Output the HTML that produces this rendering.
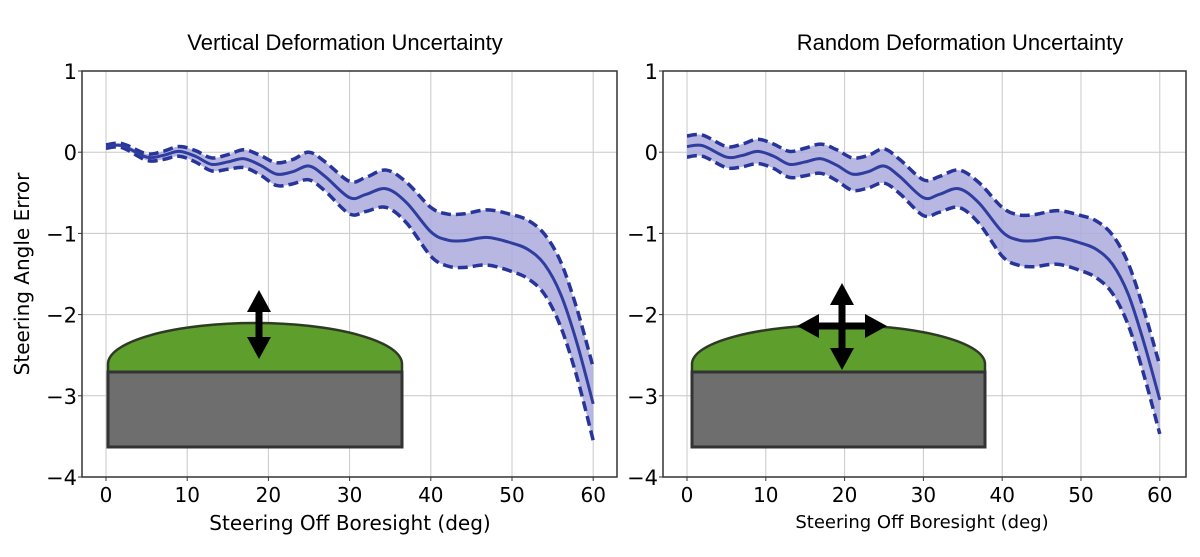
<!DOCTYPE html>
<html><head><meta charset="utf-8"><style>
body{margin:0;background:#fff;width:1200px;height:557px;overflow:hidden}
svg{display:block;font-family:"DejaVu Sans","Liberation Sans",sans-serif}
</style></head><body>
<svg id="chart" width="1200" height="557" viewBox="0 0 1200 557">
<text x="345" y="50" font-size="22" text-anchor="middle" font-family="Liberation Sans, sans-serif">Vertical Deformation Uncertainty</text>
<text x="960" y="50" font-size="22" text-anchor="middle" font-family="Liberation Sans, sans-serif">Random Deformation Uncertainty</text>
<text transform="translate(29,274) rotate(-90)" font-size="20" text-anchor="middle">Steering Angle Error</text>
<text x="350" y="530" font-size="20" text-anchor="middle">Steering Off Boresight (deg)</text>
<text x="922" y="528" font-size="18" text-anchor="middle">Steering Off Boresight (deg)</text>
</svg>
<script>
const xs=[0,2,5,7,9,11,13,15,17,19,21,23,25,27,30,32,34.5,37,40,42,44,47,50,52,54,56,58,60];
const meanL=[0.07,0.08,-0.06,-0.04,0.01,-0.05,-0.15,-0.12,-0.08,-0.16,-0.27,-0.24,-0.17,-0.3,-0.56,-0.52,-0.45,-0.62,-0.98,-1.08,-1.09,-1.05,-1.12,-1.2,-1.38,-1.75,-2.35,-3.1];
const halfL=[0.02,0.025,0.04,0.05,0.06,0.07,0.08,0.09,0.11,0.12,0.14,0.15,0.17,0.18,0.2,0.21,0.23,0.25,0.3,0.32,0.33,0.34,0.35,0.36,0.37,0.4,0.42,0.45];
const meanR=[0.07,0.08,-0.06,-0.04,0.01,-0.05,-0.15,-0.12,-0.08,-0.16,-0.27,-0.24,-0.17,-0.3,-0.56,-0.52,-0.45,-0.62,-0.98,-1.08,-1.09,-1.05,-1.12,-1.2,-1.38,-1.75,-2.35,-3.05];
const halfR=[0.13,0.13,0.13,0.14,0.15,0.15,0.16,0.17,0.18,0.19,0.2,0.2,0.21,0.21,0.22,0.22,0.23,0.25,0.3,0.31,0.32,0.33,0.34,0.35,0.36,0.38,0.4,0.42];
const xTicks=[0,10,20,30,40,50,60];
const yTicks=[1,0,-1,-2,-3,-4];
const yTickLabels=["1","0","\u22121","\u22122","\u22123","\u22124"];
const NS="http://www.w3.org/2000/svg";
const svg=document.getElementById('chart');
function mk(tag,attrs,parent){const e=document.createElementNS(NS,tag);for(const k in attrs)e.setAttribute(k,attrs[k]);(parent||svg).appendChild(e);return e;}
function smooth(pts){let d='M'+pts[0][0]+','+pts[0][1];for(let i=0;i<pts.length-1;i++){const p0=pts[Math.max(0,i-1)],p1=pts[i],p2=pts[i+1],p3=pts[Math.min(pts.length-1,i+2)];
d+=' C'+(p1[0]+(p2[0]-p0[0])/6)+','+(p1[1]+(p2[1]-p0[1])/6)+' '+(p2[0]-(p3[0]-p1[0])/6)+','+(p2[1]-(p3[1]-p1[1])/6)+' '+p2[0]+','+p2[1];}return d;}
function panel(cfg){
 const X=v=>cfg.x0+(v)*cfg.sx, Y=v=>71+(1-v)*81.2;
 const g=mk('g',{});
 
 
 xTicks.forEach(t=>{const l=mk('line',{x1:X(t),x2:X(t),y1:71,y2:477,stroke:'#c8c8c8','stroke-width':1},g);
  
  const tx=mk('text',{x:X(t),y:502,'font-size':20,'text-anchor':'middle'},g);tx.textContent=t;
  
  mk('line',{x1:X(t),x2:X(t),y1:477,y2:481,stroke:'#333'},g);});
 yTicks.forEach((t,i)=>{const l=mk('line',{x1:cfg.left,x2:cfg.right,y1:Y(t),y2:Y(t),stroke:'#c8c8c8','stroke-width':1},g);
  
  const tx=mk('text',{x:cfg.left-5,y:Y(t)+8,'font-size':21,'text-anchor':'end'},g);tx.textContent=yTickLabels[i];
  
  mk('line',{x1:cfg.left-4,x2:cfg.left,y1:Y(t),y2:Y(t),stroke:'#333'},g);});
 const ins=cfg.inset;
 const dome=mk('path',{d:`M${ins.x1},372 L${ins.x1},364 A${(ins.x2-ins.x1)/2},${364-ins.top} 0 0 1 ${ins.x2},364 L${ins.x2},372 Z`,fill:'#5e9e2c',stroke:'#2f3a25','stroke-width':2.5},g);
 
 const rect=mk('rect',{x:ins.x1,y:372,width:ins.x2-ins.x1,height:75,fill:'#6e6e6e',stroke:'#333','stroke-width':3},g);
 
 const up=[],lo=[],mid=[];
 xs.forEach((x,i)=>{up.push([X(x),Y(cfg.mean[i]+cfg.half[i])]);lo.push([X(x),Y(cfg.mean[i]-cfg.half[i])]);mid.push([X(x),Y(cfg.mean[i])]);});
 const loR=lo.slice().reverse();
 const band=mk('path',{d:smooth(up)+' L'+loR[0][0]+','+loR[0][1]+smooth(loR).replace(/^M[^ ]+/,'')+' Z',fill:'#aaaadd','fill-opacity':0.85},g);
 
 const u=mk('path',{d:smooth(up),fill:'none',stroke:'#27359a','stroke-width':3.5,'stroke-dasharray':'10,5'},g);
 
 const lw=mk('path',{d:smooth(lo),fill:'none',stroke:'#27359a','stroke-width':3.5,'stroke-dasharray':'10,5'},g);
 
 const m=mk('path',{d:smooth(mid),fill:'none',stroke:'#2f3d9e','stroke-width':3},g);
 
 const ax=mk('rect',{x:cfg.left,y:71,width:cfg.right-cfg.left,height:406,fill:'none',stroke:'#333','stroke-width':1.5},g);
 
 return g;
}
function arrowV(g,cx,y1,y2){mk('line',{x1:cx,x2:cx,y1:y1+18,y2:y2-18,stroke:'#000','stroke-width':7},g);
 mk('polygon',{points:`${cx},${y1} ${cx-12},${y1+22} ${cx+12},${y1+22}`,fill:'#000'},g);
 mk('polygon',{points:`${cx},${y2} ${cx-12},${y2-22} ${cx+12},${y2-22}`,fill:'#000'},g);}
function arrowH(g,cy,x1,x2){mk('line',{x1:x1+18,x2:x2-18,y1:cy,y2:cy,stroke:'#000','stroke-width':7},g);
 mk('polygon',{points:`${x1},${cy} ${x1+22},${cy-12} ${x1+22},${cy+12}`,fill:'#000'},g);
 mk('polygon',{points:`${x2},${cy} ${x2-22},${cy-12} ${x2-22},${cy+12}`,fill:'#000'},g);}
const gl=panel({name:'left',x0:106,sx:8.12,left:82,right:617,mean:meanL,half:halfL,inset:{x1:108,x2:402,top:323}});
const a1=mk('g',{},svg);


arrowV(a1,259,290,359);
const gr=panel({name:'right',x0:687,sx:7.88,left:663,right:1186,mean:meanR,half:halfR,inset:{x1:692,x2:985,top:325}});
const a2=mk('g',{},svg);


arrowV(a2,842,283,370);arrowH(a2,326,797,887);
</script>
</body></html>
